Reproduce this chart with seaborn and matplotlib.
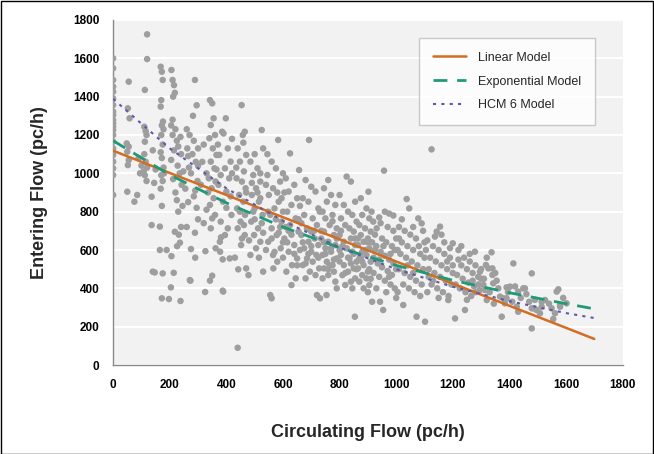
import matplotlib
matplotlib.use("Agg")
import matplotlib.pyplot as plt
import seaborn as sns
from matplotlib.patches import Rectangle

# ---- observed (circulating flow, entering flow) pairs, pc/h ----
obs = [
    # x = 0
    (0, 1600), (0, 1548), (0, 1487), (0, 1452), (0, 1426), (0, 1391), (0, 1356), (0, 1322), (0, 1304),
    (0, 1278), (0, 1261), (0, 1243), (0, 1226), (0, 1200), (0, 1165), (0, 1130), (0, 1096), (0, 1061),
    (0, 1026), (0, 991), (0, 887),
    # 50 - 150
    (55, 1478), (52, 1339), (58, 1287), (48, 1156), (55, 1139), (50, 1113), (55, 1069), (52, 1043), (50, 904),
    (85, 887), (75, 852), (95, 1000), (100, 1040), (90, 1080),
    (120, 1725), (120, 1596), (112, 1435), (110, 1243), (115, 1220), (118, 1200), (112, 1165), (110, 1100),
    (115, 1060), (120, 1030), (112, 990), (118, 960), (108, 1010),
    (136, 878), (136, 730), (140, 487), (147, 483), (145, 950), (150, 1020), (140, 1120),
    # 160 - 250
    (168, 1556), (172, 1530), (175, 1487), (170, 1382), (168, 1348), (172, 1250), (178, 1230), (170, 1200),
    (175, 1150), (168, 1110), (172, 1080), (178, 1030), (170, 990), (175, 960), (168, 920), (172, 830),
    (165, 722), (165, 600), (175, 478), (172, 348), (180, 1000), (189, 600), (176, 1270),
    (206, 1539), (210, 1487), (215, 1460), (218, 1420), (212, 1400), (205, 1250), (220, 1230), (210, 1200),
    (225, 1170), (230, 1140), (215, 1120), (240, 1100), (205, 1070), (228, 1040), (235, 1000), (212, 970),
    (242, 940), (220, 900), (206, 568), (214, 481), (204, 405), (197, 344), (238, 334), (226, 620), (236, 638),
    (218, 695), (245, 830), (230, 800), (240, 720), (232, 680), (210, 1280), (238, 1190), (248, 1010), (225, 860),
    # 250 - 365
    (289, 1487), (295, 1355), (260, 1230), (270, 1200), (285, 1170), (262, 1130), (280, 1100), (292, 1060),
    (268, 1030), (275, 1000), (298, 960), (255, 920), (285, 880), (265, 850), (295, 820), (275, 605), (273, 440),
    (289, 690), (271, 443), (300, 760), (260, 720), (290, 560), (282, 1300), (300, 1130), (265, 1090),
    (290, 910), (300, 1040),
    (342, 1382), (350, 1365), (355, 1287), (345, 1252), (360, 1200), (340, 1183), (352, 1130), (365, 1096),
    (345, 1061), (358, 1026), (338, 974), (362, 957), (348, 922), (355, 870), (342, 835), (360, 783), (350, 765),
    (326, 594), (325, 381), (342, 440), (350, 466), (345, 713), (362, 609), (330, 1000), (320, 1150), (335, 900),
    (315, 1060), (365, 1020), (310, 940), (330, 810), (320, 740),
    # 370 - 470
    (398, 1287), (385, 1217), (390, 1208), (405, 1130), (375, 1096), (415, 1061), (395, 1026), (380, 991),
    (410, 974), (372, 940), (400, 905), (388, 852), (418, 783), (380, 748), (405, 713), (395, 678), (378, 591),
    (412, 556), (389, 383), (387, 551), (377, 643), (381, 666), (387, 388), (420, 1000), (415, 880), (400, 820),
    (370, 1150), (420, 1180),
    (454, 1356), (465, 1217), (458, 1200), (440, 1130), (470, 1096), (448, 1061), (462, 1010), (436, 974),
    (455, 957), (468, 922), (445, 887), (460, 852), (438, 817), (466, 783), (450, 748), (440, 713), (465, 678),
    (452, 626), (470, 504), (478, 469), (442, 499), (430, 560), (440, 90), (460, 1160), (435, 1030), (470, 900),
    (448, 800), (462, 730), (455, 660),
    # 480 - 600
    (525, 1226), (530, 1130), (485, 1061), (510, 1026), (495, 991), (520, 957), (505, 922), (490, 887),
    (515, 852), (500, 817), (528, 783), (488, 748), (512, 713), (498, 678), (520, 643), (505, 609), (485, 574),
    (530, 487), (500, 1100), (520, 1000), (490, 950), (510, 900), (495, 800), (525, 740), (515, 560), (480, 650),
    (530, 690), (500, 760), (520, 870),
    (583, 1174), (560, 1061), (575, 1026), (545, 991), (590, 957), (565, 922), (550, 887), (585, 852),
    (570, 817), (555, 783), (595, 748), (560, 713), (578, 678), (548, 643), (592, 609), (565, 574), (580, 539),
    (566, 504), (560, 348), (555, 365), (545, 1100), (600, 1000), (540, 940), (580, 900), (595, 870), (548, 800),
    (575, 760), (590, 720), (560, 660), (540, 600), (600, 640), (585, 690), (570, 590), (600, 560),
    # 600 - 730
    (625, 1104), (657, 1017), (610, 974), (640, 940), (620, 905), (650, 870), (630, 835), (615, 800), (645, 765),
    (625, 730), (655, 696), (605, 660), (640, 626), (620, 591), (650, 556), (632, 521), (612, 487), (645, 452),
    (630, 417), (600, 800), (660, 830), (610, 720), (655, 760), (630, 680), (615, 640), (660, 600), (640, 580),
    (620, 700), (650, 520), (605, 900),
    (692, 1174), (680, 965), (700, 930), (715, 905), (670, 870), (690, 852), (725, 817), (675, 783), (705, 765),
    (720, 730), (685, 713), (700, 696), (665, 678), (712, 660), (690, 643), (725, 626), (675, 609), (700, 591),
    (718, 574), (685, 556), (705, 539), (670, 521), (728, 504), (695, 487), (715, 469), (680, 452), (731, 348),
    (720, 365), (730, 800), (665, 740), (700, 620), (690, 580), (710, 700), (680, 530), (725, 560), (670, 640),
    # 730 - 910
    (760, 965), (745, 922), (770, 887), (755, 852), (785, 835), (740, 800), (775, 783), (750, 765), (765, 730),
    (790, 713), (745, 696), (780, 678), (735, 660), (760, 643), (785, 626), (750, 609), (770, 591), (740, 574),
    (790, 556), (755, 539), (775, 521), (745, 504), (780, 487), (760, 469), (740, 452), (785, 435), (754, 365),
    (790, 400), (770, 610), (750, 580), (735, 700), (780, 550), (765, 520), (745, 640), (790, 660), (760, 500),
    (775, 750),
    (825, 983), (840, 957), (800, 887), (855, 852), (815, 835), (830, 800), (845, 783), (805, 765), (860, 748),
    (820, 730), (835, 713), (850, 696), (800, 678), (840, 660), (815, 643), (855, 626), (825, 609), (845, 591),
    (805, 574), (835, 556), (860, 539), (815, 521), (850, 504), (830, 487), (810, 469), (855, 452), (840, 435),
    (820, 417), (854, 252), (845, 400), (800, 600), (830, 560), (850, 580), (810, 620), (860, 500), (820, 480),
    (840, 530), (800, 540), (855, 660), (805, 700),
    (902, 904), (875, 870), (895, 817), (880, 783), (905, 765), (870, 730), (890, 713), (910, 696), (875, 678),
    (900, 660), (885, 643), (865, 626), (905, 609), (880, 591), (895, 574), (870, 556), (910, 539), (885, 521),
    (865, 504), (900, 487), (880, 469), (895, 452), (870, 435), (905, 417), (885, 400), (900, 380), (890, 600),
    (875, 560), (905, 500), (865, 660), (880, 540), (900, 640),
    # 910 - 1100
    (957, 1014), (913, 800), (919, 748), (931, 713), (960, 800), (975, 790), (990, 780), (940, 770), (925, 680),
    (950, 660), (965, 640), (985, 620), (995, 600), (930, 620), (945, 590), (960, 570), (975, 550), (990, 530),
    (920, 560), (935, 530), (950, 510), (970, 490), (985, 470), (1000, 500), (920, 480), (940, 460), (960, 440),
    (980, 420), (995, 400), (930, 400), (954, 287), (943, 330), (915, 330), (965, 380), (1000, 350), (990, 700),
    (970, 720), (915, 640), (1000, 660), (945, 740), (925, 600), (955, 620), (980, 580), (940, 550), (910, 450),
    (975, 460),
    (1037, 866), (1046, 817), (1078, 765), (1090, 739), (1010, 720), (1030, 700), (1050, 680), (1070, 660),
    (1020, 640), (1040, 620), (1060, 600), (1085, 580), (1100, 560), (1015, 580), (1035, 560), (1055, 540),
    (1075, 520), (1095, 500), (1010, 500), (1030, 480), (1050, 460), (1070, 440), (1090, 420), (1025, 420),
    (1045, 400), (1065, 380), (1085, 360), (1005, 380), (1025, 313), (1072, 252), (1102, 226), (1100, 640),
    (1060, 720), (1010, 660), (1080, 620), (1040, 520), (1005, 600), (1095, 700), (1020, 760), (1060, 480),
    # 1100 - 1300
    (1125, 1125), (1143, 696), (1137, 670), (1155, 722), (1110, 650), (1130, 620), (1150, 600), (1170, 580),
    (1190, 560), (1120, 560), (1140, 540), (1160, 520), (1180, 500), (1200, 480), (1115, 500), (1135, 480),
    (1155, 460), (1175, 440), (1195, 420), (1125, 420), (1145, 400), (1165, 380), (1185, 360), (1184, 339),
    (1110, 380), (1170, 640), (1190, 610), (1105, 600), (1160, 680), (1200, 635), (1180, 540), (1130, 440),
    (1150, 350), (1200, 520), (1115, 460),
    (1220, 600), (1278, 591), (1240, 560), (1260, 540), (1280, 520), (1300, 500), (1230, 520), (1250, 500),
    (1270, 480), (1290, 460), (1215, 470), (1235, 450), (1255, 430), (1275, 410), (1295, 390), (1225, 400),
    (1245, 380), (1265, 360), (1208, 243), (1243, 287), (1210, 420), (1290, 420), (1260, 580), (1230, 620),
    (1300, 450), (1270, 440), (1250, 340), (1280, 380), (1220, 550),
    # 1300 - 1610
    (1337, 588), (1326, 504), (1317, 522), (1340, 504), (1296, 487), (1308, 418), (1343, 426), (1314, 391),
    (1361, 400), (1390, 405), (1402, 409), (1367, 357), (1390, 348), (1320, 339), (1384, 322), (1373, 252),
    (1379, 348), (1340, 470), (1310, 450), (1355, 440), (1330, 380), (1350, 480), (1320, 560), (1395, 380),
    (1345, 320),
    (1414, 530), (1479, 478), (1449, 400), (1455, 400), (1431, 383), (1426, 304), (1431, 278), (1479, 191),
    (1479, 296), (1496, 287), (1485, 296), (1508, 270), (1420, 410), (1440, 350), (1470, 330), (1460, 370),
    (1490, 340), (1410, 330),
    (1514, 304), (1526, 339), (1567, 383), (1573, 395), (1561, 270), (1579, 304), (1549, 296), (1579, 313),
    (1602, 322), (1514, 330), (1540, 320), (1590, 350), (1555, 240),
]
circ_flow = [p[0] for p in obs]
entry_flow = [p[1] for p in obs]

# ---- model curves ----
model_circ = [0, 200, 400, 600, 800, 1000, 1200, 1400, 1600, 1700]
linear_entry = [1118, 1002, 887, 771, 656, 540, 425, 309, 194, 136]
expon_entry = [1170, 992, 846, 720, 612, 520, 442, 377, 320, 293]
hcm6_entry = [1388, 1130, 922, 752, 613, 500, 408, 333, 271, 245]

sns.set_style("white")
plt.rcParams['font.family'] = ['Liberation Sans', 'DejaVu Sans']

fig = plt.figure(figsize=(6.54, 4.54), dpi=100)
ax = fig.add_axes([0.173, 0.196, 0.779, 0.760])
ax.set_facecolor('#f2f2f2')

sns.scatterplot(x=circ_flow, y=entry_flow, ax=ax, color='#9e9e9e', s=22,
                edgecolor='none', linewidth=0, zorder=3, legend=False)

sns.lineplot(x=model_circ, y=linear_entry, ax=ax, color='#d26d22', linewidth=1.8,
             label='Linear Model', zorder=4)
sns.lineplot(x=model_circ, y=expon_entry, ax=ax, color='#1f9a78', linewidth=2.0,
             linestyle=(0, (5, 3.5)), label='Exponential Model', zorder=4)
sns.lineplot(x=model_circ, y=hcm6_entry, ax=ax, color='#5e5aa8', linewidth=1.5,
             linestyle=(0, (1.5, 2.5)), label='HCM 6 Model', zorder=4)

ax.set_xlim(0, 1800)
ax.set_ylim(0, 1800)
ax.set_xticks(range(0, 1801, 200))
ax.set_yticks(range(0, 1801, 200))
ax.yaxis.grid(True, color='white', linewidth=1.5, zorder=0)
ax.xaxis.grid(False)
ax.set_axisbelow(True)

for side in ['top', 'right']:
    ax.spines[side].set_visible(False)
for side in ['left', 'bottom']:
    ax.spines[side].set_color('#8a8a8a')
    ax.spines[side].set_linewidth(1.0)

ax.tick_params(axis='both', direction='inout', length=8, width=1.0, color='#8a8a8a',
               labelsize=8.5, labelcolor='black')
ax.tick_params(axis='y', pad=6)
ax.tick_params(axis='x', pad=6)
for lab in ax.get_xticklabels() + ax.get_yticklabels():
    lab.set_fontweight('bold')

ax.set_xlabel('Circulating Flow (pc/h)', fontsize=13, fontweight='bold', labelpad=24)
ax.set_ylabel('Entering Flow (pc/h)', fontsize=13, fontweight='bold', labelpad=18)

leg = ax.legend(loc='upper right', bbox_to_anchor=(0.946, 0.948), fontsize=9,
                frameon=True, fancybox=False, handlelength=2.6, handletextpad=1.0,
                labelspacing=0.95, borderpad=1.1, borderaxespad=0)
leg.get_frame().set_edgecolor('#bdbdbd')
leg.get_frame().set_facecolor('white')
leg.get_frame().set_linewidth(1.0)

# outer frame around whole figure
fig.patches.append(Rectangle((0.001, 0.001), 0.997, 0.997, transform=fig.transFigure,
                             fill=False, edgecolor='black', linewidth=1.0))

fig.savefig('out.png', dpi=100)
